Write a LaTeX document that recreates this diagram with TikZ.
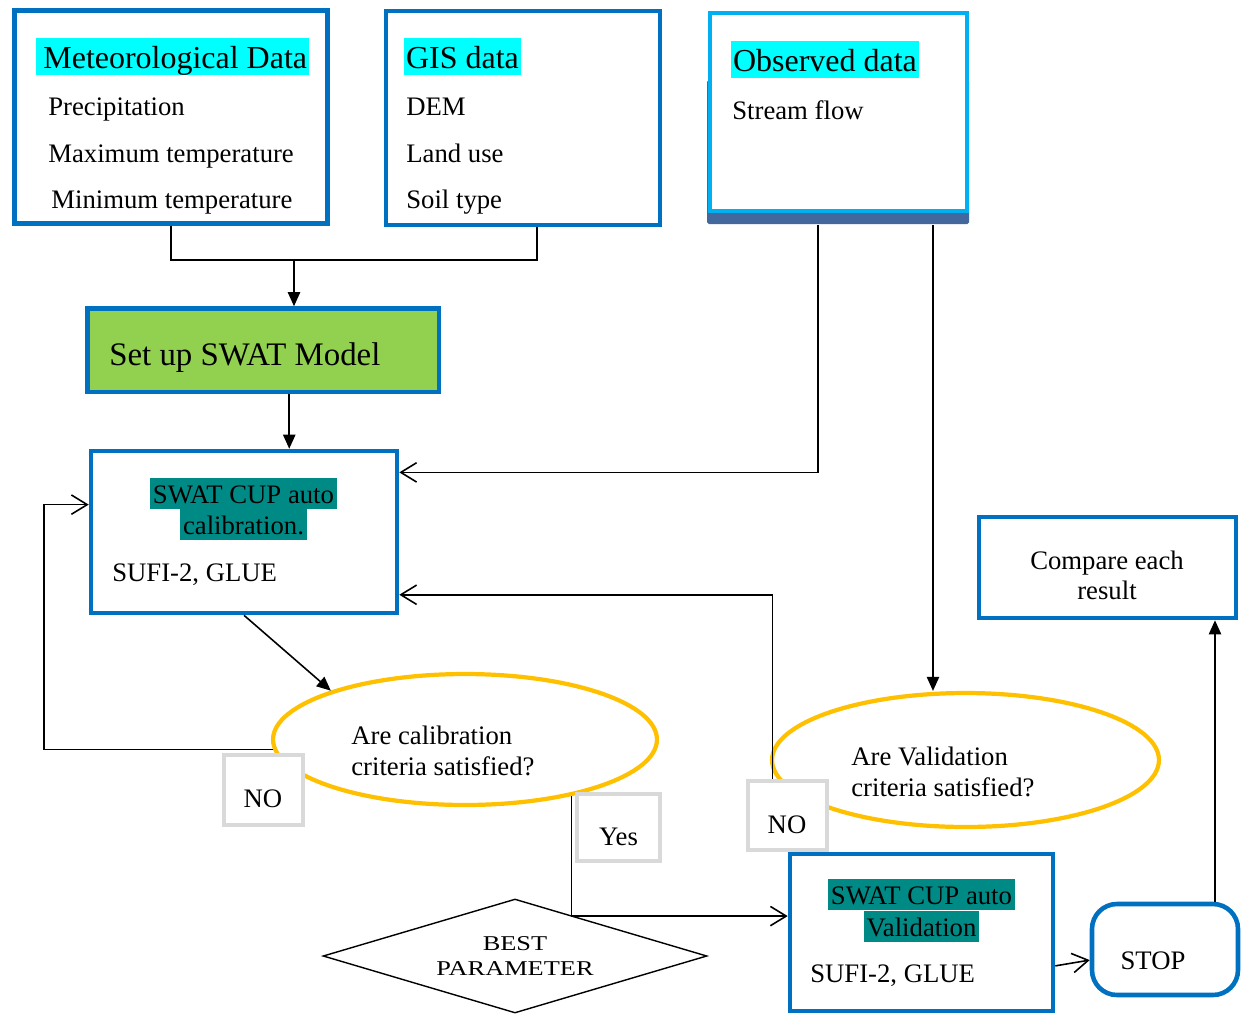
\documentclass[tikz,border=0pt]{standalone}
\usepackage{fontspec}
\setmainfont{Liberation Serif}
\usetikzlibrary{shapes.geometric,arrows.meta,fit}
\definecolor{boxblue}{RGB}{0,112,192}
\definecolor{obsblue}{RGB}{0,176,240}
\definecolor{shadowblue}{RGB}{66,104,158}
\definecolor{hlcyan}{RGB}{0,255,255}
\definecolor{hlteal}{RGB}{0,138,134}
\definecolor{setgreen}{RGB}{146,208,80}
\definecolor{critgold}{RGB}{255,192,0}
\definecolor{nogray}{RGB}{217,217,217}
\newcommand{\headhl}[1]{{\setlength{\fboxsep}{0pt}\colorbox{hlcyan}{\rule[-4pt]{0pt}{21pt}#1\kern1pt}}}
\newcommand{\tealhl}[1]{{\setlength{\fboxsep}{0pt}\colorbox{hlteal}{\rule[-3.4pt]{0pt}{17.4pt}\kern1.5pt#1\kern1.5pt}}}
\tikzset{
  txt/.style={inner sep=0pt, font=\fontsize{15.2}{17.7}\selectfont},
  head/.style={inner sep=0pt, font=\fontsize{18.2}{21}\selectfont},
  bluebox/.style={draw=boxblue, line width=2.6pt, fill=white, inner sep=0pt},
  graybox/.style={draw=nogray, line width=2.6pt, fill=white, inner sep=0pt},
  crit/.style={ellipse, draw=critgold, line width=2.4pt, fill=white, inner sep=0pt},
  flow/.style={line width=0.9pt, -{Triangle[length=8pt,width=7pt]}},
  back/.style={line width=0.9pt, -{Straight Barb[length=9pt,width=11pt]}}
}

\begin{document}
\begin{tikzpicture}[x=0.02cm,y=-0.02cm]
\useasboundingbox (0,0) rectangle (1241,1015);

% input boxes
\node[bluebox, fit={(14.5,10.5) (327.5,223.5)}] (met) {};
\node[bluebox, fit={(386,11) (660,225)}] (gis) {};
\fill[shadowblue, rounded corners=1pt] (707,80) rectangle (969,224);
\node[bluebox, draw=obsblue, fit={(710,13) (967,211)}] (obs) {};

\node[head, anchor=base west] (methead) at (36,68) {\headhl{\kern4pt Meteorological Data}};
\node[txt, anchor=base west] (prec) at (48,115) {Precipitation};
\node[txt, anchor=base west] (tmax) at (48,162) {Maximum temperature};
\node[txt, anchor=base west] (tmin) at (51,208) {Minimum temperature};

\node[head, anchor=base west] (gishead) at (404,68) {\headhl{\kern1pt GIS data}};
\node[txt, anchor=base west] (dem) at (406,115) {DEM};
\node[txt, anchor=base west] (luse) at (406,162) {Land use};
\node[txt, anchor=base west] (soil) at (406,208) {Soil type};

\node[head, anchor=base west] (obshead) at (731,71) {\headhl{\kern1pt Observed data}};
\node[txt, anchor=base west] (sflow) at (732,119) {Stream flow};

% model and calibration
\node[bluebox, fill=setgreen, fit={(87.5,308.5) (439,392)}] (setup) {};
\node[inner sep=0pt, font=\fontsize{18.7}{21}\selectfont, anchor=base west] (setuptxt) at (109,365) {Set up SWAT Model};

\node[bluebox, fit={(91,451) (397,613)}] (cal) {};
\node[txt, anchor=base] (calt1) at (243.5,503) {\tealhl{SWAT CUP auto}};
\node[txt, anchor=base] (calt2) at (243.5,534) {\tealhl{calibration.}};
\node[txt, anchor=base west] (calsufi) at (112,581) {SUFI-2, GLUE};

\node[crit, minimum width=7.68cm, minimum height=2.62cm] (ecal) at (465,739.5) {};
\node[txt, anchor=base west] (ecal1) at (351,744) {Are calibration};
\node[txt, anchor=base west] (ecal2) at (351,775) {criteria satisfied?};

\node[crit, minimum width=7.74cm, minimum height=2.68cm] (eval) at (965.5,760) {};
\node[txt, anchor=base west] (eval1) at (851,765) {Are Validation};
\node[txt, anchor=base west] (eval2) at (851,796) {criteria satisfied?};

% answers
\node[graybox, fit={(224,755) (303,825)}] (no1) {};
\node[txt, anchor=base] (no1txt) at (263,807) {NO};
\node[graybox, fit={(577,794) (660,861)}] (yesb) {};
\node[txt, anchor=base] (yestxt) at (618.5,845) {Yes};
\node[graybox, fit={(748,781) (827,850)}] (no2) {};
\node[txt, anchor=base] (no2txt) at (787,833) {NO};

\node[diamond, aspect=3.37, draw, line width=0.8pt, inner sep=0pt, minimum width=7.68cm, minimum height=2.28cm,
  align=center, font=\fontsize{12}{14.2}\selectfont] (best) at (515,956)
  {\scalebox{1.25}[1]{BEST}\\\scalebox{1.25}[1]{PARAMETER}};

% validation and end
\node[bluebox, fit={(790,854) (1053,1011)}] (valb) {};
\node[txt, anchor=base] (valt1) at (921.5,904) {\tealhl{SWAT CUP auto}};
\node[txt, anchor=base] (valt2) at (921.5,936) {\tealhl{Validation}};
\node[txt, anchor=base west] (valsufi) at (810,982) {SUFI-2, GLUE};

\node[bluebox, rounded corners=0.5cm, fit={(1092,904) (1238,995)}] (stop) {};
\node[txt, anchor=base] (stoptxt) at (1153,969) {STOP};

\node[bluebox, fit={(979,517) (1236,618)}] (cmp) {};
\node[txt, anchor=base] (cmp1) at (1107,569) {Compare each};
\node[txt, anchor=base] (cmp2) at (1107,599.5) {result};

% connectors
\draw[line width=0.9pt] (met.south) -- ++(0,34) -| ([xshift=0.28cm]gis.south);
\coordinate (merge) at (294,259);
\draw[flow] (merge) -- (merge |- setup.north);
\draw[flow] ([xshift=0.52cm]setup.south) -- ([xshift=0.52cm]setup.south |- cal.north);
\draw[back, shorten <=0.24cm] ([xshift=-0.41cm]obs.south) |- (cal.21);
\draw[flow, shorten <=0.24cm] ([xshift=1.89cm]obs.south) -- ([xshift=1.89cm]obs.south |- eval.north);
\draw[flow] (cal.south) -- (ecal.160);
\draw[back] (ecal.183) -| ([xshift=-0.9cm]cal.170) -- (cal.170);
\draw[back] (ecal.-28) |- (valb.173);
\draw[back] ([xshift=-0.3cm]no2.north) |- (cal.-22);
\draw[back] (valb.-14) -- (stop.-172);
\draw[flow] ([xshift=1cm]stop.north) -- ([xshift=1cm]stop.north |- cmp.south);

\end{tikzpicture}
\end{document}
